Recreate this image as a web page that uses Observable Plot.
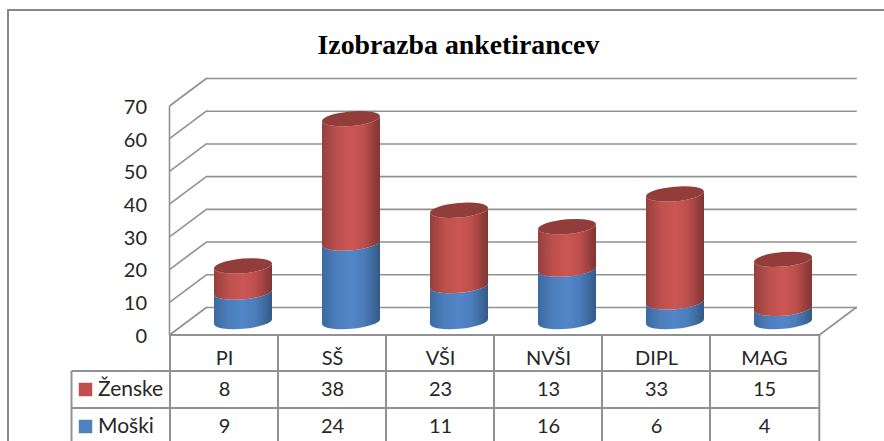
<!DOCTYPE html>
<html>
<head>
<meta charset="utf-8">
<script src="https://cdn.jsdelivr.net/npm/d3@7"></script>
<script src="https://cdn.jsdelivr.net/npm/@observablehq/plot@0.6"></script>
<style>
  html,body{margin:0;padding:0;background:#fff;overflow:hidden;width:884px;height:441px}
  #wrap{position:relative;width:884px;height:441px;overflow:hidden}
  #frame{position:absolute;left:7px;top:9px;width:900px;height:460px;border-left:2px solid #888;border-top:2px solid #888}
  #chart{position:absolute;left:0;top:0}
  #chart svg{display:block;background:transparent}
</style>
</head>
<body>
<div id="wrap"><div id="frame"></div><div id="chart"></div></div>
<script>
const categories = ["PI", "SŠ", "VŠI", "NVŠI", "DIPL", "MAG"];
const zenske = [8, 38, 23, 13, 33, 15];
const moski = [9, 24, 11, 16, 6, 4];
const seriesNames = ["Moški", "Ženske"];
const seriesColors = ["#4F81BD", "#C0504D"];
const yTicks = [0, 10, 20, 30, 40, 50, 60, 70];

const rows = [
  ...categories.map((c, i) => ({cat: c, sex: seriesNames[0], value: moski[i]})),
  ...categories.map((c, i) => ({cat: c, sex: seriesNames[1], value: zenske[i]}))
];

const W = 884, H = 441;
const depthX = 37.5, depthY = -28;
const grid = "#919191", gridW = 1.6;
const uiFont = "Lato, 'Noto Sans', sans-serif";
const inset = 25;
const tilt = 5, ry = 7.3;

function gradientDefs(svg) {
  const defs = svg.append("defs");
  const mk = (id, edgeL, mid, edgeR) => {
    const g = defs.append("linearGradient").attr("id", id).attr("x1", 0).attr("x2", 1).attr("y1", 0).attr("y2", 0);
    [[0, edgeL], [0.25, d3.interpolateRgb(edgeL, mid)(0.72)], [0.5, mid], [0.72, d3.interpolateRgb(edgeR, mid)(0.8)], [1, edgeR]]
      .forEach(([o, c]) => g.append("stop").attr("offset", o).attr("stop-color", c));
  };
  mk("cylBlue", "#3c6a9e", "#5286c8", "#335a87");
  mk("cylRed", "#93403e", "#cc5653", "#7f3533");
}

function cylinders(index, scales, values, dimensions, context, next) {
  const g = next(index, scales, values, dimensions, context);
  const sel = d3.select(g);
  gradientDefs(sel);
  const rad = tilt * Math.PI / 180;
  sel.selectAll("rect").each(function () {
    const r = d3.select(this);
    const x = +r.attr("x"), y = +r.attr("y"), w = +r.attr("width"), h = +r.attr("height");
    const isRed = r.attr("fill").toLowerCase() === seriesColors[1].toLowerCase();
    const a = w / 2 / Math.cos(rad), cx = x + w / 2, ex = w / 2, ey = a * Math.sin(rad);
    const p = `M${cx - ex},${y + ey}A${a},${ry} ${-tilt} 0 0 ${cx + ex},${y - ey}` +
              `L${cx + ex},${y + h - ey}A${a},${ry} ${-tilt} 0 1 ${cx - ex},${y + h + ey}Z`;
    const parent = d3.select(this.parentNode);
    parent.append("path").attr("d", p).attr("fill", isRed ? "url(#cylRed)" : "url(#cylBlue)");
    if (isRed) {
      parent.append("path")
        .attr("d", `M${cx - ex},${y + ey}A${a},${ry} ${-tilt} 0 0 ${cx + ex},${y - ey}A${a},${ry} ${-tilt} 0 0 ${cx - ex},${y + ey}Z`)
        .attr("fill", "#933d3b");
    }
    r.remove();
  });
  return g;
}

function sideWalls(index, {y}, values, {marginLeft, width, marginRight}) {
  const g = d3.create("svg:g").attr("stroke", grid).attr("stroke-width", gridW).attr("fill", "none");
  for (const t of yTicks) {
    g.append("line").attr("x1", marginLeft).attr("x2", marginLeft + depthX).attr("y1", y(t)).attr("y2", y(t) + depthY);
  }
  const xr = width - marginRight;
  g.append("line").attr("x1", xr).attr("x2", xr + depthX).attr("y1", y(0)).attr("y2", y(0) + depthY);
  g.append("line").attr("x1", marginLeft).attr("x2", marginLeft).attr("y1", y(70)).attr("y2", y(0));
  return g.node();
}

function tableLines(index, {x, y}, values, {marginLeft, width, marginRight, height}) {
  const g = d3.create("svg:g").attr("stroke", grid).attr("stroke-width", 2).attr("fill", "none");
  const xr = width - marginRight, top = y(0), legendLeft = marginLeft - 98;
  const rowA = top + 36, rowB = top + 73;
  g.append("line").attr("x1", marginLeft).attr("x2", xr).attr("y1", top).attr("y2", top);
  for (const ry of [rowA, rowB]) g.append("line").attr("x1", legendLeft).attr("x2", xr).attr("y1", ry).attr("y2", ry);
  for (const c of categories) g.append("line").attr("x1", x(c)).attr("x2", x(c)).attr("y1", top).attr("y2", height);
  g.append("line").attr("x1", xr).attr("x2", xr).attr("y1", top).attr("y2", height);
  g.append("line").attr("x1", legendLeft).attr("x2", legendLeft).attr("y1", rowA).attr("y2", height);
  return g.node();
}

const chart = Plot.plot({
  width: W,
  height: H,
  marginLeft: 169.5,
  marginRight: 64.7,
  marginTop: 106,
  marginBottom: 106,
  style: {fontFamily: uiFont, fontSize: "20px", color: "#262626", background: "transparent", overflow: "visible"},
  x: {domain: categories, padding: 0, axis: null},
  y: {domain: [0, 70], axis: null},
  color: {domain: seriesNames, range: seriesColors},
  marks: [
    Plot.ruleY(yTicks, {dx: depthX, dy: depthY, stroke: grid, strokeWidth: gridW}),
    sideWalls,
    Plot.barY(rows, {x: "cat", y: "value", fill: "sex", insetLeft: inset, insetRight: inset,
                     dx: 19, dy: -13.5, render: cylinders}),
    tableLines,
    Plot.axisY({ticks: yTicks, tickSize: 0, tickPadding: 23, anchor: "left", label: null, dy: 1, fontSize: 20}),
    Plot.axisX({anchor: "bottom", tickSize: 0, tickPadding: 15, label: null, fontSize: 20}),
    Plot.text(zenske, {x: (d, i) => categories[i], text: d => String(d), frameAnchor: "bottom", lineAnchor: "middle", dy: 54, fontSize: 20}),
    Plot.text(moski, {x: (d, i) => categories[i], text: d => String(d), frameAnchor: "bottom", lineAnchor: "middle", dy: 91, fontSize: 20}),
    Plot.dot(["Ženske"], {frameAnchor: "bottom-left", dx: -84.5, dy: 54, symbol: "square", r: 7.6, fill: d => d}),
    Plot.dot(["Moški"], {frameAnchor: "bottom-left", dx: -84.5, dy: 91, symbol: "square", r: 7.6, fill: d => d}),
    Plot.text(["Ženske"], {frameAnchor: "bottom-left", lineAnchor: "middle", dx: -72, dy: 54, textAnchor: "start", text: d => d, fontSize: 21}),
    Plot.text(["Moški"], {frameAnchor: "bottom-left", lineAnchor: "middle", dx: -72, dy: 91, textAnchor: "start", text: d => d, fontSize: 21}),
    Plot.text(["Izobrazba anketirancev"], {frameAnchor: "top-left", dx: 147.5, dy: -72, text: d => d,
      fontFamily: "'Liberation Serif', serif", fontWeight: "bold", fontSize: 27.8, fill: "#000"})
  ]
});
document.getElementById("chart").appendChild(chart);
</script>
</body>
</html>
